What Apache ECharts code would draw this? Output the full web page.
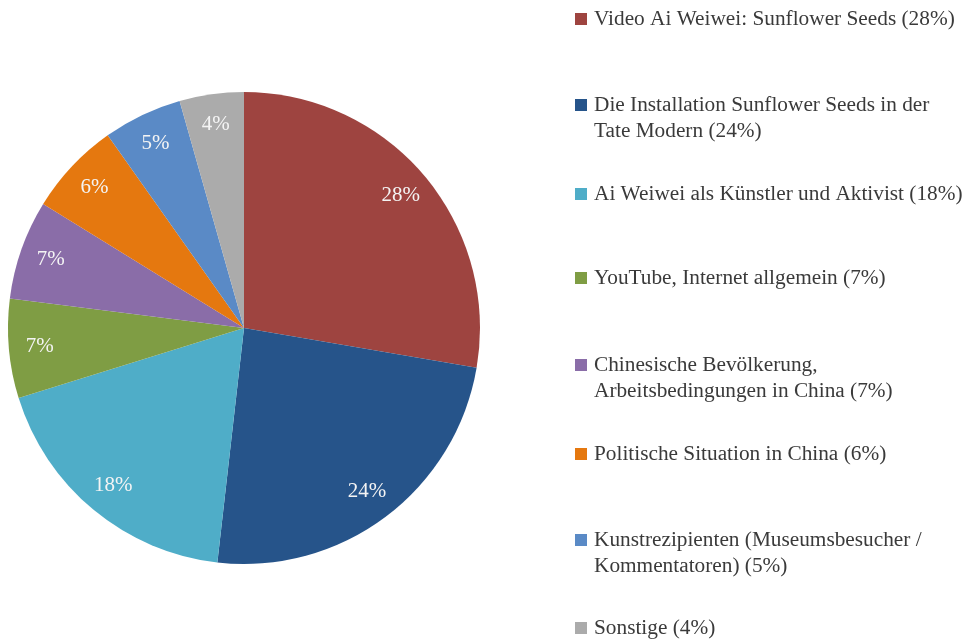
<!DOCTYPE html>
<html>
<head>
<meta charset="utf-8">
<script src="https://cdn.jsdelivr.net/npm/echarts@6/dist/echarts.min.js"></script>
<style>
html, body { margin: 0; background: #fff; }
#chart { width: 979px; height: 640px; }
</style>
</head>
<body>
<div id="chart"></div>
<script>
var topics = [
	"Video Ai Weiwei: Sunflower Seeds",
	"Die Installation Sunflower Seeds in der Tate Modern",
	"Ai Weiwei als Künstler und Aktivist",
	"YouTube, Internet allgemein",
	"Chinesische Bevölkerung, Arbeitsbedingungen in China",
	"Politische Situation in China",
	"Kunstrezipienten (Museumsbesucher / Kommentatoren)",
	"Sonstige"
];
// shares
var shares = [27.7, 24.1, 18.4, 6.8, 6.8, 6.4, 5.4, 4.4];
// legend text, broken the way the reference wraps it
var legendLines = [
	["Video Ai Weiwei: Sunflower Seeds"],
	["Die Installation Sunflower Seeds in der", "Tate Modern"],
	["Ai Weiwei als Künstler und Aktivist"],
	["YouTube, Internet allgemein"],
	["Chinesische Bevölkerung,", "Arbeitsbedingungen in China"],
	["Politische Situation in China"],
	["Kunstrezipienten (Museumsbesucher /", "Kommentatoren)"],
	["Sonstige"]
];
var colors = ["#9e4440", "#26548a", "#4fadc8", "#7f9d44", "#8a6da8", "#e5780f", "#5a8ac6", "#ababab"];
var legendTops = [1, 87, 176, 260, 347, 436, 522, 610];

var font = "'Liberation Serif', 'Times New Roman', serif";
var total = shares.reduce(function(a, b) { return a + b; }, 0);

var pieData = topics.map(function(t, i) {
	return { name: t, value: shares[i], itemStyle: { color: colors[i] } };
});

var rich = {
	t: { fontFamily: font, fontSize: 21.3, color: "#3a3a3a", lineHeight: 26 },
	sp: { width: 7, height: 12 },
	ind: { width: 19, height: 12 }
};
colors.forEach(function(c, i) {
	rich["b" + i] = { width: 12, height: 12, backgroundColor: c };
});

var legends = topics.map(function(t, i) {
	return {
		data: [t],
		orient: "vertical",
		left: 565,
		top: legendTops[i],
		icon: "none",
		itemWidth: 0,
		itemHeight: 0,
		selectedMode: false,
		textStyle: { fontFamily: font, fontSize: 21, lineHeight: 26, color: "#3a3a3a", rich: rich },
		formatter: function(name) {
			var k = topics.indexOf(name);
			var pct = Math.round(shares[k] / total * 100);
			var lines = legendLines[k].slice();
			lines[lines.length - 1] += " (" + pct + "%)";
			return lines.map(function(l, j) {
				return (j === 0 ? "{b" + k + "|}{sp|}" : "{ind|}") + "{t|" + l + "}";
			}).join("\n");
		}
	};
});

var chart = echarts.init(document.getElementById("chart"));
chart.setOption({
	backgroundColor: "#fff",
	animation: false,
	legend: legends,
	series: [
		{
			type: "pie",
			center: [244, 328],
			radius: 236,
			startAngle: 90,
			silent: true,
			label: { show: false },
			labelLine: { show: false },
			data: pieData
		},
		{
			// transparent ring only to place the percentage labels
			type: "pie",
			center: [244, 328],
			radius: [168, 236],
			startAngle: 90,
			silent: true,
			itemStyle: { color: "transparent" },
			label: {
				show: true,
				position: "inside",
				fontFamily: font,
				fontSize: 21,
				color: "#f4f4f4",
				formatter: function(p) { return Math.round(p.percent) + "%"; }
			},
			labelLine: { show: false },
			data: topics.map(function(t, i) { return { name: t, value: shares[i] }; })
		}
	]
});
</script>
</body>
</html>
